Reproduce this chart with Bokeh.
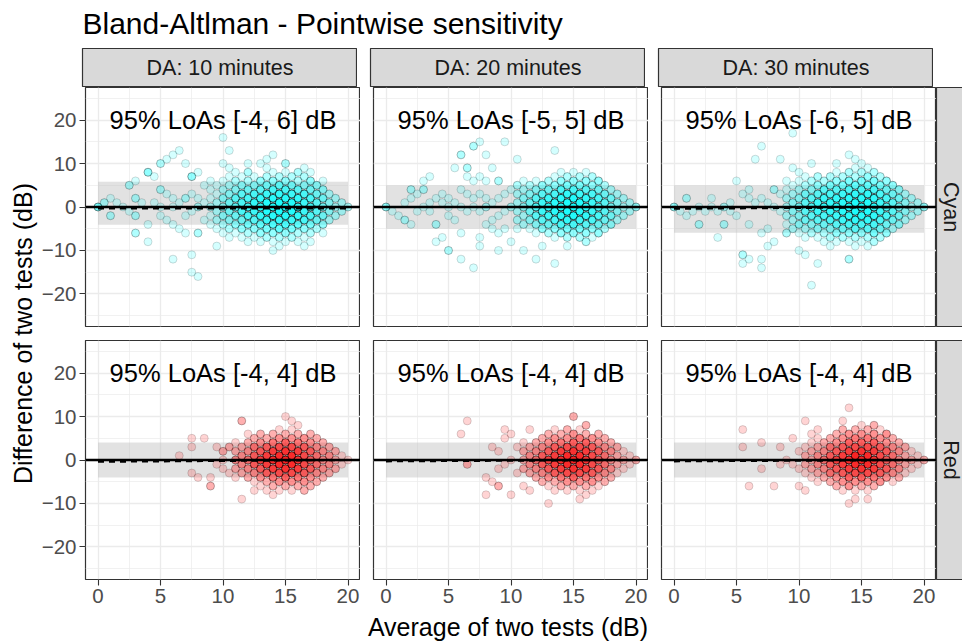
import math
from bokeh.plotting import figure
from bokeh.layouts import row, column
from bokeh.models import Range1d, FixedTicker, Label, Span, Grid, ColumnDataSource
from bokeh.embed import file_html
from bokeh.resources import INLINE

FONT = "Liberation Sans"

# ---------------- data ----------------
chart_title = "Bland-Altlman - Pointwise sensitivity"
x_title = "Average of two tests (dB)"
y_title = "Difference of two tests (dB)"
durations = ["DA: 10 minutes", "DA: 20 minutes", "DA: 30 minutes"]
colours = ["Cyan", "Red"]
x_ticks = [0, 5, 10, 15, 20]
y_ticks = [-20, -10, 0, 10, 20]

cyan_loa_lower = [-4.1, -5.0, -5.9]
cyan_loa_upper = [5.8, 5.0, 5.0]
red_loa_lower = [-4.0, -4.0, -4.0]
red_loa_upper = [4.0, 4.0, 4.0]
cyan_labels = ["95% LoAs [-4, 6] dB", "95% LoAs [-5, 5] dB", "95% LoAs [-6, 5] dB"]
red_labels = ["95% LoAs [-4, 4] dB", "95% LoAs [-4, 4] dB", "95% LoAs [-4, 4] dB"]
# dashed trend line: value at lowest and at highest average
cyan_trend_start = [-0.3, 0.0, -0.4]
cyan_trend_end = [-0.3, 0.0, 0.0]
red_trend_start = [-0.4, -0.3, -0.3]
red_trend_end = [0.0, 0.0, 0.0]

# points: dense columns (average, lowest difference, counts every 2 dB) + isolated points (average, difference, count)
cyan_10_core = [
    (9, -4, [1, 1, 2, 1, 1]), (9.5, -5, [1, 2, 2, 2, 1, 1]), (10, -6, [1, 2, 3, 3, 3, 2, 1]),
    (10.5, -5, [2, 3, 4, 4, 3, 2]), (11, -6, [1, 3, 4, 5, 5, 3, 2]), (11.5, -7, [1, 3, 4, 6, 6, 5, 3, 1]),
    (12, -6, [2, 4, 6, 7, 6, 4, 2]), (12.5, -7, [1, 3, 5, 7, 8, 6, 3, 1]), (13, -6, [3, 5, 8, 9, 8, 5, 3]),
    (13.5, -7, [2, 4, 7, 10, 10, 7, 4, 2]), (14, -8, [1, 3, 6, 9, 11, 9, 6, 3, 1]),
    (14.5, -7, [2, 5, 8, 11, 11, 8, 5, 2]), (15, -8, [1, 3, 6, 9, 12, 9, 6, 3, 1]),
    (15.5, -7, [2, 4, 7, 10, 10, 7, 4, 2]), (16, -8, [1, 2, 5, 8, 9, 8, 5, 2, 2]),
    (16.5, -7, [1, 3, 6, 7, 7, 6, 3, 2]), (17, -6, [2, 4, 6, 7, 6, 4, 3]), (17.5, -5, [2, 4, 5, 5, 4, 3]),
    (18, -4, [3, 4, 4, 4, 3]), (18.5, -3, [2, 3, 3, 2]), (19, -2, [2, 2, 2]), (19.5, -1, [2, 2]), (20, 0, [2]),
]
cyan_10_points = [
    (0, 0, 4), (0.5, 1, 2), (1, 2, 1), (1, -2, 2), (1.5, 1, 1), (2, 0, 1),
    (2.5, 5, 2), (2.5, -1, 1), (3, 6, 1), (3, 2, 2), (3, -2, 2), (3, -6, 2),
    (3.5, 1, 1), (4, 8, 3), (4, -4, 1), (4, -8, 1), (4.5, 7, 1), (4.5, 1, 1),
    (5, 10, 2), (5, 4, 2), (5, 0, 1), (5, -2, 1), (5.5, 11, 1), (5.5, 3, 1), (5.5, -3, 1),
    (6, 12, 1), (6, 2, 1), (6, 0, 1), (6, -4, 1), (6, -12, 1),
    (6.5, 13, 1), (6.5, 1, 1), (6.5, -5, 1),
    (7, 10, 1), (7, 2, 2), (7, -2, 1), (7, -6, 1),
    (7.5, 7, 3), (7.5, 3, 1), (7.5, -1, 1), (7.5, -11, 1), (7.5, -15, 1),
    (8, 8, 1), (8, 2, 1), (8, 0, 2), (8, -6, 2), (8, -16, 1),
    (8.5, 5, 1), (8.5, 1, 1), (8.5, -3, 1), (9, 6, 1), (9.5, -9, 1),
    (10, 16, 1), (10, 10, 1), (10.5, 13, 1), (10.5, 9, 1), (10.5, 7, 1), (10.5, -7, 1),
    (11, 8, 1), (12, 10, 1), (12, 8, 2), (12, -8, 1), (13, 10, 1), (13, -8, 1),
    (13.5, 11, 1), (13.5, 9, 1), (14, 12, 1), (14, -10, 1), (14.5, -9, 1), (15, 10, 2),
    (16.5, 9, 1), (16.5, -9, 1), (17, 8, 1), (17, -8, 1), (18, 6, 1), (18, -6, 1),
]

cyan_20_core = [
    (10.5, -5, [1, 2, 2, 2, 2, 1]), (11, -4, [2, 2, 3, 3, 2]), (11.5, -5, [1, 3, 4, 4, 3, 2]),
    (12, -6, [1, 3, 5, 6, 5, 3, 1]), (12.5, -5, [3, 5, 7, 7, 5, 3]), (13, -6, [2, 4, 7, 9, 7, 4, 2]),
    (13.5, -7, [1, 3, 6, 9, 9, 6, 3, 1]), (14, -6, [3, 6, 9, 11, 9, 6, 3]),
    (14.5, -7, [2, 4, 8, 11, 11, 8, 4, 2]), (15, -6, [3, 6, 10, 12, 10, 6, 3]),
    (15.5, -7, [2, 4, 7, 10, 10, 7, 4, 2]), (16, -6, [3, 5, 8, 9, 8, 5, 3]),
    (16.5, -7, [1, 3, 6, 7, 7, 6, 3, 1]), (17, -6, [2, 4, 6, 6, 6, 4, 2]), (17.5, -5, [2, 4, 5, 5, 4, 2]),
    (18, -4, [3, 4, 4, 4, 2]), (18.5, -3, [2, 3, 3, 2]), (19, -2, [2, 2, 2]), (19.5, -1, [2, 2]), (20, 0, [3]),
]
cyan_20_points = [
    (0, 0, 3), (0.5, -1, 1), (1, -2, 1), (1.5, -3, 2), (1.5, 1, 1), (2, 4, 2), (2, 2, 1), (2, -4, 1),
    (2.5, -1, 1), (2.5, 3, 1), (3, 6, 1), (3, 4, 2), (3, 0, 1), (3.5, 7, 1), (3.5, 1, 1), (3.5, -1, 1),
    (4, 2, 1), (4, -4, 2), (4, -8, 1), (4.5, -7, 1), (4.5, 1, 1), (4.5, 3, 1),
    (5, -10, 2), (5, -2, 1), (5, 2, 1), (5, 0, 1), (5.5, 9, 1), (5.5, 1, 1), (5.5, -3, 1),
    (6, 12, 2), (6, 4, 1), (6, -6, 1), (6, -12, 1), (6, 0, 1),
    (6.5, 9, 2), (6.5, 7, 1), (6.5, 3, 1), (6.5, -1, 1),
    (7, 14, 2), (7, 6, 1), (7, 2, 1), (7, 0, 1), (7, -14, 1),
    (7.5, 15, 1), (7.5, 7, 1), (7.5, 3, 1), (7.5, -1, 1), (7.5, -7, 1), (7.5, -9, 1),
    (8, 12, 1), (8, 6, 1), (8, 2, 1), (8, 0, 2), (8, -4, 1),
    (8.5, 9, 1), (8.5, 1, 1), (8.5, -3, 1), (8.5, -5, 1),
    (9, 6, 2), (9, 2, 1), (9, -2, 1), (9, -6, 1), (9, -10, 1),
    (9.5, 15, 1), (9.5, 3, 1), (9.5, -1, 1), (9.5, -5, 1),
    (10, 4, 1), (10, 0, 2), (10, -8, 1), (10.5, 11, 1), (10.5, 5, 1),
    (11, -10, 1), (11, 6, 1), (12, -12, 1), (12.5, -9, 1), (13.5, 13, 1), (13.5, -13, 1),
    (14, 8, 1), (14.5, -9, 1), (15, 8, 1), (16, 8, 1), (16, -8, 2), (16.5, 7, 1), (17, 6, 1), (17, -6, 1),
]

cyan_30_core = [
    (9, -4, [1, 2, 2, 2, 1]), (9.5, -5, [2, 2, 3, 3, 2, 1]), (10, -6, [1, 3, 3, 4, 3, 2, 1]),
    (10.5, -7, [1, 2, 4, 5, 5, 4, 2, 1]), (11, -6, [2, 3, 5, 6, 5, 3, 2]),
    (11.5, -7, [1, 3, 5, 7, 7, 5, 3, 1]), (12, -6, [2, 4, 6, 8, 7, 5, 2]),
    (12.5, -7, [2, 3, 6, 8, 8, 6, 4, 2]), (13, -8, [1, 3, 5, 7, 9, 8, 5, 3, 1]),
    (13.5, -7, [2, 4, 7, 9, 9, 7, 4, 2]), (14, -8, [1, 3, 6, 9, 11, 9, 6, 4, 2]),
    (14.5, -9, [1, 2, 5, 8, 11, 11, 8, 5, 2, 1]), (15, -8, [1, 3, 6, 9, 12, 9, 6, 4, 2]),
    (15.5, -9, [1, 2, 5, 8, 10, 10, 8, 5, 3, 1]), (16, -8, [2, 4, 6, 8, 9, 8, 6, 4, 2]),
    (16.5, -7, [2, 4, 6, 7, 7, 6, 4, 2]), (17, -6, [3, 4, 6, 6, 6, 4, 3]), (17.5, -5, [2, 4, 5, 5, 4, 3]),
    (18, -4, [3, 4, 4, 4, 3]), (18.5, -3, [2, 3, 3, 2]), (19, -2, [2, 2, 2]), (19.5, -1, [2, 2]), (20, 0, [3]),
]
cyan_30_points = [
    (0, 0, 3), (0.5, -1, 1), (1, 2, 2), (1, -2, 1), (1.5, -1, 1), (2, -4, 2), (2, 0, 1), (2.5, -1, 1),
    (3, 2, 1), (3, 0, 1), (3.5, -7, 1), (3.5, -1, 1), (4, 0, 2), (4, -4, 2), (4.5, -1, 1), (4.5, 1, 1),
    (5, 6, 1), (5, -2, 1), (5.5, 3, 1), (5.5, -11, 2), (5.5, -13, 1),
    (6, 4, 1), (6, 2, 1), (6, -4, 1), (6, -12, 1), (6.5, 11, 1), (6.5, 1, 1),
    (7, 14, 1), (7, 2, 1), (7, -6, 1), (7, -12, 1), (7, -14, 1),
    (7.5, 1, 1), (7.5, -5, 1), (7.5, -9, 1), (8, 4, 2), (8, 0, 1), (8, -8, 1),
    (8.5, 11, 1), (8.5, 3, 1), (8.5, -1, 1), (9, 6, 1), (9, -6, 2),
    (9.5, 17, 1), (9.5, 9, 1), (10, 8, 1), (10, -10, 1), (10.5, -11, 1),
    (11, 10, 1), (11, -18, 1), (11.5, 7, 1), (11.5, -13, 1), (12, -8, 1), (12.5, -9, 1),
    (13, 10, 1), (14, 12, 1), (14, -12, 2), (14.5, 11, 1), (15, 10, 1),
]

red_10_core = [
    (11, -2, [2, 3, 2]), (11.5, -3, [2, 3, 3, 2]), (12, -4, [2, 3, 4, 3, 2]), (12.5, -5, [1, 3, 5, 5, 4, 2]),
    (13, -6, [1, 3, 5, 7, 5, 3, 1]), (13.5, -5, [2, 5, 7, 7, 5, 2]), (14, -6, [2, 4, 7, 9, 7, 4, 2]),
    (14.5, -7, [1, 3, 6, 9, 9, 6, 3, 1]), (15, -6, [2, 5, 8, 10, 8, 5, 2]),
    (15.5, -7, [1, 3, 6, 9, 9, 6, 3, 1]), (16, -6, [2, 4, 7, 8, 7, 4, 2]), (16.5, -5, [3, 5, 6, 6, 5, 3]),
    (17, -6, [1, 3, 5, 5, 5, 3, 2]), (17.5, -5, [2, 3, 4, 4, 3, 2]), (18, -4, [2, 3, 3, 3, 2]),
    (18.5, -3, [2, 3, 3, 2]), (19, -2, [2, 2, 2]), (19.5, -1, [1, 1]), (20, 0, [1]),
]
red_10_points = [
    (6.5, 1, 1), (7.5, 5, 1), (7.5, 3, 1), (7.5, -3, 1), (8, -4, 1), (8.5, 5, 1),
    (9, -6, 2), (9, -4, 1), (9.5, 3, 1), (9.5, -1, 1), (10, 2, 2), (10, 0, 1), (10, -2, 1),
    (10.5, 3, 2), (10.5, -3, 1), (11, 4, 1), (11, -4, 1), (11.5, 9, 2), (11.5, -9, 1),
    (12, 6, 1), (12.5, -7, 1), (13, 6, 1), (13.5, -7, 1), (14, -8, 1),
    (15, 10, 1), (15.5, 9, 1), (16, 8, 1), (16.5, -7, 2), (17, -6, 1),
]

red_20_core = [
    (11, -2, [2, 2, 2]), (11.5, -3, [2, 3, 3, 2]), (12, -4, [2, 3, 4, 3, 2]), (12.5, -5, [2, 3, 5, 5, 3, 2]),
    (13, -6, [1, 3, 5, 7, 5, 3, 2]), (13.5, -7, [1, 2, 5, 7, 7, 5, 3, 1]), (14, -6, [2, 4, 7, 9, 7, 4, 2]),
    (14.5, -7, [1, 3, 6, 9, 9, 6, 3, 1]), (15, -6, [2, 5, 8, 10, 8, 5, 3]),
    (15.5, -7, [1, 3, 6, 9, 9, 6, 4, 1]), (16, -6, [2, 4, 7, 8, 7, 5, 2]), (16.5, -5, [3, 5, 6, 6, 5, 3]),
    (17, -6, [1, 3, 5, 5, 5, 3, 2]), (17.5, -5, [2, 3, 4, 4, 3, 2]), (18, -4, [2, 3, 3, 3, 2]),
    (18.5, -3, [1, 2, 2, 2]), (19, -2, [1, 2, 1]), (19.5, -1, [1, 1]), (20, 0, [2]),
]
red_20_points = [
    (6, 6, 1), (6.5, 9, 1), (6.5, -1, 2), (8, -4, 1), (8, -8, 1), (8.5, 3, 1), (8.5, -5, 1),
    (9, -6, 2), (9, 2, 1), (9, -2, 1), (9.5, 7, 1), (9.5, 5, 1), (9.5, -1, 1),
    (10, 6, 1), (10, -8, 1), (10, 0, 1), (10.5, 3, 1), (10.5, -3, 1), (11, 4, 1), (11, -6, 1),
    (11.5, 7, 1), (11.5, -7, 1), (13, -10, 1), (14.5, 7, 1), (15, 10, 2), (15.5, -9, 1),
    (16, 8, 2), (16, -8, 1), (16.5, -7, 1),
]

red_30_core = [
    (10.5, -3, [1, 2, 2, 1]), (11, -4, [1, 2, 2, 2, 1]), (11.5, -5, [1, 2, 3, 3, 2, 1]),
    (12, -4, [2, 3, 4, 3, 2]), (12.5, -5, [2, 4, 5, 5, 4, 2]), (13, -6, [2, 3, 5, 7, 5, 3, 2]),
    (13.5, -7, [1, 3, 5, 7, 7, 5, 3, 1]), (14, -6, [3, 5, 7, 9, 7, 5, 3]),
    (14.5, -7, [1, 3, 6, 9, 10, 6, 4, 2]), (15, -6, [2, 5, 8, 10, 8, 5, 3]),
    (15.5, -7, [1, 3, 6, 9, 9, 6, 4, 2]), (16, -6, [2, 4, 7, 8, 7, 5, 3]), (16.5, -5, [3, 5, 6, 6, 5, 3]),
    (17, -4, [3, 5, 5, 5, 3]), (17.5, -5, [1, 3, 4, 4, 3, 2]), (18, -4, [2, 3, 3, 3, 2]),
    (18.5, -3, [1, 2, 2, 2]), (19, -2, [1, 2, 1]), (19.5, -1, [1, 1]), (20, 0, [2]),
]
red_30_points = [
    (5.5, 7, 1), (5.5, 3, 1), (6, -6, 1), (7, 4, 1), (7, -2, 1), (8, -6, 1), (8.5, 3, 1), (8.5, -1, 1),
    (9, 0, 1), (9.5, 5, 1), (9.5, -1, 1), (10, 2, 1), (10, -2, 1), (10, -6, 1), (10.5, 9, 1), (10.5, -7, 1),
    (11, 6, 1), (11.5, 7, 1), (13.5, 9, 1), (13.5, 7, 1), (14, 12, 1), (14, -10, 1), (14.5, -9, 1),
    (15, 8, 1), (15.5, -9, 1), (16, 8, 2), (16.5, 7, 1), (17, 6, 3),
]

panel_data = {
    ("Cyan", 0): (cyan_10_core, cyan_10_points), ("Cyan", 1): (cyan_20_core, cyan_20_points),
    ("Cyan", 2): (cyan_30_core, cyan_30_points), ("Red", 0): (red_10_core, red_10_points),
    ("Red", 1): (red_20_core, red_20_points), ("Red", 2): (red_30_core, red_30_points),
}
fill_colours = {"Cyan": "#00FFFF", "Red": "#FF0000"}
loa_lower = {"Cyan": cyan_loa_lower, "Red": red_loa_lower}
loa_upper = {"Cyan": cyan_loa_upper, "Red": red_loa_upper}
loa_text = {"Cyan": cyan_labels, "Red": red_labels}
trend_start = {"Cyan": cyan_trend_start, "Red": red_trend_start}
trend_end = {"Cyan": cyan_trend_end, "Red": red_trend_end}

POINT_ALPHA = 0.17


def collect(core, points):
    cells = {}
    for x, ylo, counts in core:
        for i, n in enumerate(counts):
            if n:
                key = (x, ylo + 2 * i)
                cells[key] = cells.get(key, 0) + n
    for x, y, n in points:
        cells[(x, y)] = cells.get((x, y), 0) + n
    xs = [k[0] for k in cells]
    ys = [k[1] for k in cells]
    ns = [cells[k] for k in cells]
    return xs, ys, ns


all_x = []
for key in panel_data:
    xs, _, _ = collect(*panel_data[key])
    all_x += xs
x_lo, x_hi = min(all_x), max(all_x)

# ---------------- layout (pixels) ----------------
TITLE_H = 48
YLAB_W = 38
FRAME_W, FRAME_H = 275, 239
GAP = 13
LEFT_AXIS = 44
ROW_GAP = 14
BOTTOM_AXIS = 33
STRIP_H = 39
RSTRIP_W = 28
XLAB_H = 29
TOTAL_W = YLAB_W + LEFT_AXIS + 3 * FRAME_W + 2 * GAP + RSTRIP_W


def style_axis(ax):
    ax.axis_line_color = None
    ax.major_tick_line_color = "#333333"
    ax.major_tick_line_width = 1.1
    ax.major_tick_out = 6
    ax.major_tick_in = 0
    ax.minor_tick_line_color = None
    ax.major_label_text_font = FONT
    ax.major_label_text_font_size = "20.5px"
    ax.major_label_text_color = "#4D4D4D"
    ax.major_label_standoff = 3


def make_panel(colour, c, r):
    xs, ys, ns = collect(*panel_data[(colour, c)])
    p = figure(frame_width=FRAME_W, frame_height=FRAME_H,
               x_range=Range1d(-1, 21), y_range=Range1d(-27.5, 27.5),
               x_axis_location="below" if r == 1 else None,
               y_axis_location="left" if c == 0 else None,
               output_backend="svg", toolbar_location=None, title_location=None,
               min_border_left=LEFT_AXIS if c == 0 else GAP, min_border_right=0,
               min_border_top=0, min_border_bottom=ROW_GAP if r == 0 else BOTTOM_AXIS)
    p.center = [obj for obj in p.center if not isinstance(obj, Grid)]
    p.add_layout(Grid(dimension=0, ticker=FixedTicker(ticks=x_ticks, minor_ticks=[2.5, 7.5, 12.5, 17.5]),
                      grid_line_color="#EBEBEB", grid_line_width=1.3,
                      minor_grid_line_color="#EBEBEB", minor_grid_line_width=0.7))
    p.add_layout(Grid(dimension=1, ticker=FixedTicker(ticks=y_ticks, minor_ticks=[-25, -15, -5, 5, 15, 25]),
                      grid_line_color="#EBEBEB", grid_line_width=1.3,
                      minor_grid_line_color="#EBEBEB", minor_grid_line_width=0.7))
    p.outline_line_color = "#333333"
    p.outline_line_width = 1.2
    p.background_fill_color = "white"
    p.border_fill_color = "white"
    for ax in p.xaxis:
        ax.ticker = FixedTicker(ticks=x_ticks)
        style_axis(ax)
    for ax in p.yaxis:
        ax.ticker = FixedTicker(ticks=y_ticks)
        style_axis(ax)

    p.quad(left=[x_lo], right=[x_hi], bottom=[loa_lower[colour][c]], top=[loa_upper[colour][c]],
           fill_color="#BEBEBE", fill_alpha=0.45, line_color=None)

    alphas = [1 - (1 - POINT_ALPHA) ** n for n in ns]
    src = ColumnDataSource(dict(x=xs, y=ys, a=alphas))
    p.scatter("x", "y", source=src, size=8, marker="circle",
              fill_color=fill_colours[colour], fill_alpha="a",
              line_color="black", line_alpha="a", line_width=0.9)

    p.line([x_lo, x_hi], [trend_start[colour][c], trend_end[colour][c]],
           line_color="black", line_width=2.2, line_dash="6 5")
    p.add_layout(Span(location=0, dimension="width", line_color="black", line_width=2.5))

    p.add_layout(Label(x=10, y=20, text=loa_text[colour][c], text_align="center", text_baseline="middle",
                       text_font=FONT, text_font_size="25.5px", text_color="black"))
    return p


def blank(width, height):
    p = figure(width=width, height=height, x_range=Range1d(0, width), y_range=Range1d(0, height),
               x_axis_location=None, y_axis_location=None, output_backend="svg",
               toolbar_location=None, title_location=None,
               min_border_left=0, min_border_right=0, min_border_top=0, min_border_bottom=0)
    p.center = [obj for obj in p.center if not isinstance(obj, Grid)]
    p.outline_line_color = None
    p.background_fill_color = "white"
    p.border_fill_color = "white"
    return p


def strip(text, fw, fh, left, bottom, angle):
    p = figure(frame_width=fw, frame_height=fh, x_range=Range1d(0, 1), y_range=Range1d(0, 1),
               x_axis_location=None, y_axis_location=None, output_backend="svg",
               toolbar_location=None, title_location=None,
               min_border_left=left, min_border_right=0, min_border_top=0, min_border_bottom=bottom)
    p.center = [obj for obj in p.center if not isinstance(obj, Grid)]
    p.background_fill_color = "#D9D9D9"
    p.border_fill_color = "white"
    p.outline_line_color = "#333333"
    p.outline_line_width = 1.2
    p.add_layout(Label(x=0.5, y=0.5, text=text, angle=angle, text_align="center", text_baseline="middle",
                       text_font=FONT, text_font_size="21.5px", text_color="#1A1A1A"))
    return p


title_fig = blank(TOTAL_W, TITLE_H)
title_fig.add_layout(Label(x=YLAB_W + LEFT_AXIS, y=TITLE_H - 23, text=chart_title, text_align="left",
                           text_baseline="middle", text_font=FONT, text_font_size="30px",
                           text_color="black"))

top_strips = row(
    strip(durations[0], FRAME_W, STRIP_H, LEFT_AXIS, 0, 0),
    strip(durations[1], FRAME_W, STRIP_H, GAP, 0, 0),
    strip(durations[2], FRAME_W, STRIP_H, GAP, 0, 0),
)
rows = []
for r, colour in enumerate(colours):
    figs = [make_panel(colour, c, r) for c in range(3)]
    figs.append(strip(colour, RSTRIP_W, FRAME_H, 0, ROW_GAP if r == 0 else BOTTOM_AXIS, -math.pi / 2))
    rows.append(row(*figs))

block_h = STRIP_H + FRAME_H + ROW_GAP + FRAME_H + BOTTOM_AXIS
ylab_fig = blank(YLAB_W, block_h)
panel_mid = block_h - (STRIP_H + (2 * FRAME_H + ROW_GAP) / 2)
ylab_fig.add_layout(Label(x=22, y=panel_mid, text=y_title, angle=math.pi / 2, text_align="center",
                          text_baseline="middle", text_font=FONT, text_font_size="25px", text_color="black"))

xlab_fig = blank(TOTAL_W, XLAB_H)
xlab_fig.add_layout(Label(x=YLAB_W + LEFT_AXIS + (3 * FRAME_W + 2 * GAP) / 2, y=XLAB_H - 14, text=x_title,
                          text_align="center", text_baseline="middle",
                          text_font=FONT, text_font_size="25px", text_color="black"))

layout = column(title_fig, row(ylab_fig, column(top_strips, rows[0], rows[1])), xlab_fig)

open("out.html", "w").write(file_html(layout, INLINE))
